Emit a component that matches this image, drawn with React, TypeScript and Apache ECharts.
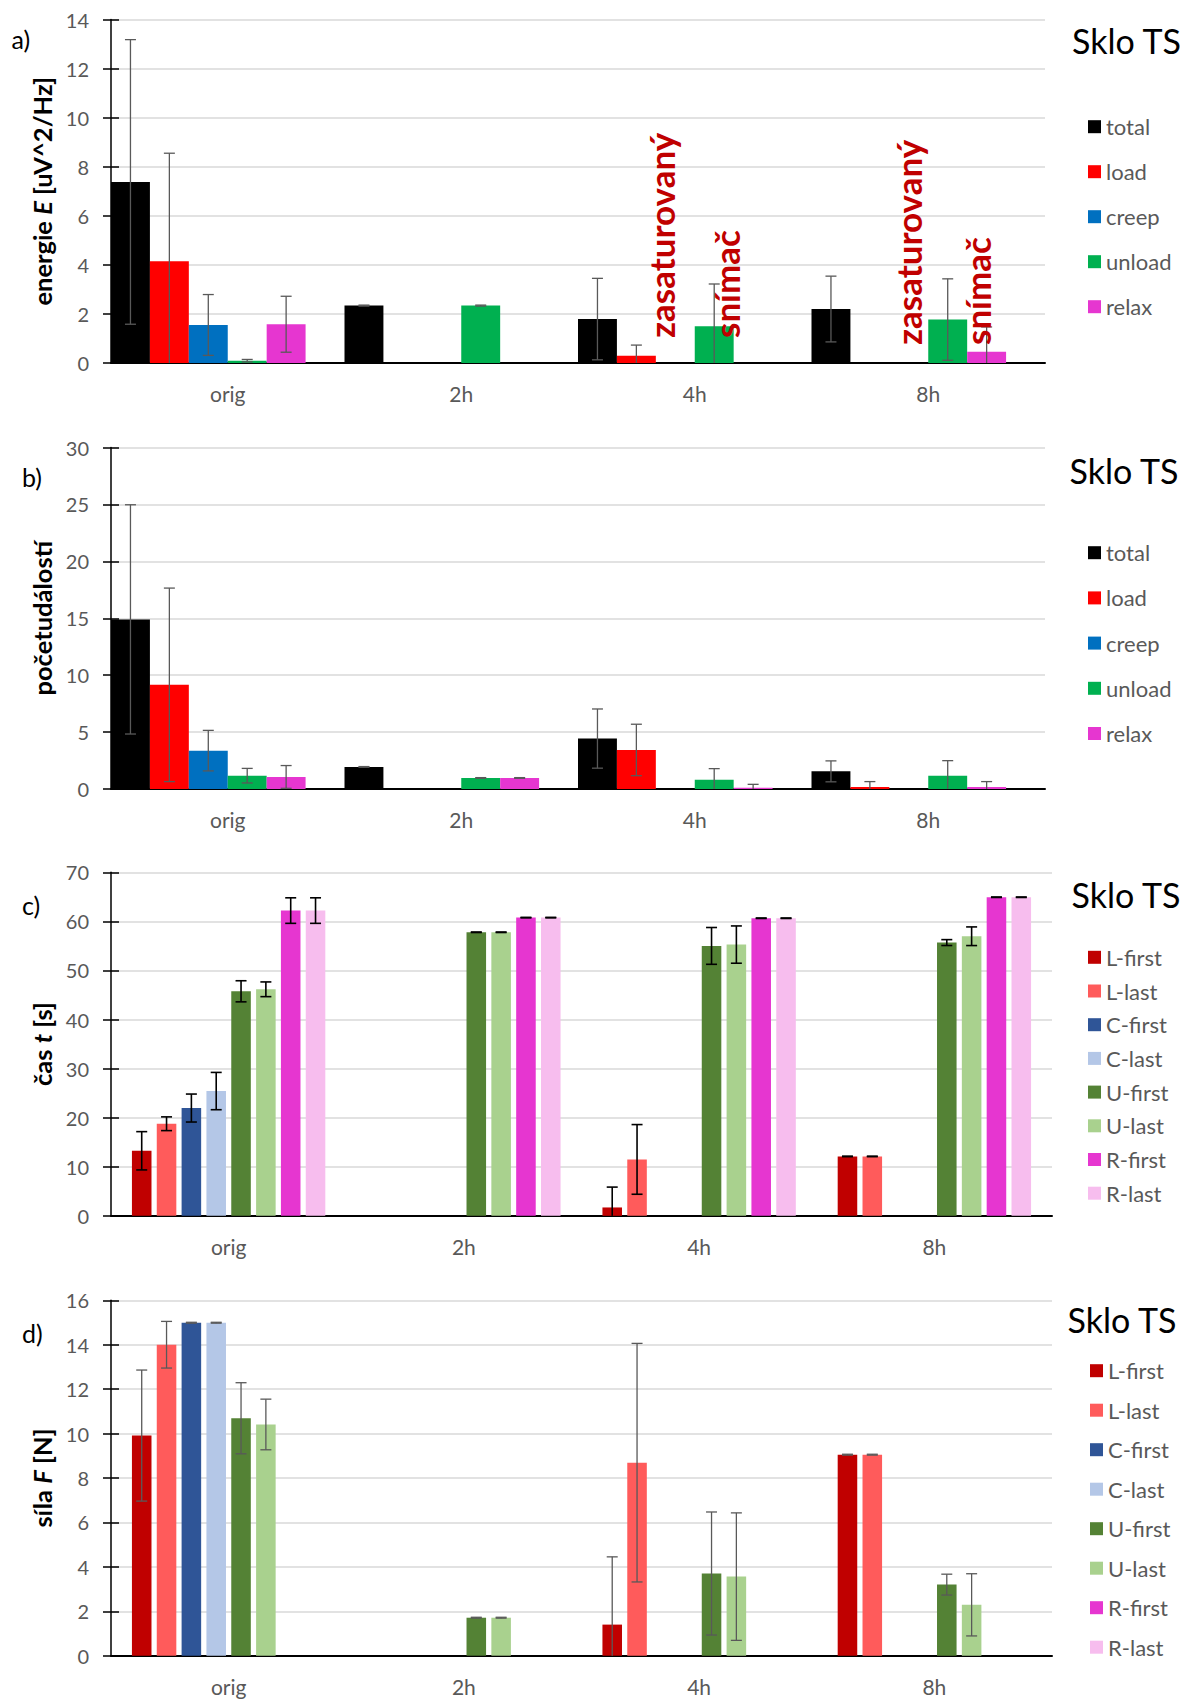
import React, { useEffect, useRef } from 'react';
import * as echarts from 'echarts';

// ---------- data ----------
const categories = ['orig', '2h', '4h', '8h'];

// panel a) energie E
const energyNames = ['total', 'load', 'creep', 'unload', 'relax'];
const energyTotal = [7.38, 2.34, 1.79, 2.2];
const energyTotalErr = [5.8, 0.02, 1.66, 1.34];
const energyLoad = [4.15, null, 0.3, null];
const energyLoadErr = [4.4, null, 0.43, null];
const energyCreep = [1.55, null, null, null];
const energyCreepErr = [1.24, null, null, null];
const energyUnload = [0.095, 2.34, 1.5, 1.77];
const energyUnloadErr = [0.05, 0.02, 1.72, 1.66];
const energyRelax = [1.58, null, null, 0.46];
const energyRelaxErr = [1.14, null, null, 1.01];

// panel b) počet událostí
const countTotal = [14.9, 1.94, 4.43, 1.55];
const countTotalErr = [10.07, 0.03, 2.6, 0.92];
const countLoad = [9.15, null, 3.43, 0.18];
const countLoadErr = [8.5, null, 2.26, 0.47];
const countCreep = [3.37, null, null, null];
const countCreepErr = [1.78, null, null, null];
const countUnload = [1.17, 0.97, 0.82, 1.17];
const countUnloadErr = [0.64, 0.03, 0.97, 1.32];
const countRelax = [1.06, 0.97, 0.12, 0.18];
const countRelaxErr = [1.0, 0.03, 0.29, 0.47];

// panel c) čas t
const phaseNames = ['L-first', 'L-last', 'C-first', 'C-last', 'U-first', 'U-last', 'R-first', 'R-last'];
const timeLFirst = [13.25, null, 1.7, 12.1];
const timeLFirstErr = [3.9, null, 4.15, 0.05];
const timeLLast = [18.76, null, 11.49, 12.1];
const timeLLastErr = [1.4, null, 7.1, 0.05];
const timeCFirst = [21.96, null, null, null];
const timeCFirstErr = [2.85, null, null, null];
const timeCLast = [25.42, null, null, null];
const timeCLastErr = [3.8, null, null, null];
const timeUFirst = [45.75, 57.78, 55.0, 55.68];
const timeUFirstErr = [2.15, 0.05, 3.75, 0.6];
const timeULast = [46.16, 57.78, 55.27, 56.97];
const timeULastErr = [1.5, 0.05, 3.8, 1.9];
const timeRFirst = [62.2, 60.77, 60.64, 64.92];
const timeRFirstErr = [2.6, 0.05, 0.05, 0.05];
const timeRLast = [62.2, 60.77, 60.64, 64.92];
const timeRLastErr = [2.6, 0.05, 0.05, 0.05];

// panel d) síla F
const forceLFirst = [9.91, null, 1.4, 9.05];
const forceLFirstErr = [2.95, null, 3.05, 0.02];
const forceLLast = [14.0, null, 8.69, 9.05];
const forceLLastErr = [1.05, null, 5.37, 0.02];
const forceCFirst = [14.99, null, null, null];
const forceCFirstErr = [0.02, null, null, null];
const forceCLast = [14.99, null, null, null];
const forceCLastErr = [0.02, null, null, null];
const forceUFirst = [10.69, 1.71, 3.7, 3.2];
const forceUFirstErr = [1.6, 0.02, 2.77, 0.47];
const forceULast = [10.41, 1.71, 3.56, 2.29];
const forceULastErr = [1.14, 0.02, 2.87, 1.4];
const forceRFirst = [null, null, null, null];
const forceRFirstErr = [null, null, null, null];
const forceRLast = [null, null, null, null];
const forceRLastErr = [null, null, null, null];

// ---------- styles ----------
const FONT = 'Lato, "Open Sans", sans-serif';
const TXT = '#595959';
const energyColors = ['#000000', '#FF0000', '#0070C0', '#00B050', '#E636D0'];
const phaseColors = ['#C00000', '#FF5B5B', '#2F5597', '#B4C7E7', '#548235', '#A9D18E', '#E636D0', '#F7BDEE'];

type Panel = {
  grid: { left: number; top: number; width: number; height: number };
  max: number;
  interval: number;
  axisName: string;
  names: string[];
  colors: string[];
  values: (number | null)[][];
  errs: (number | null)[][];
  slots: number;
  catGap: number;
  barGap: number;
  errColor: string;
  errWidth: number;
  legend: { left: number; top: number; gap: number };
  sklo: { x: number; y: number };
  letter: { text: string; x: number; y: number };
};

const panels: Panel[] = [
  {
    grid: { left: 111, top: 19.5, width: 934, height: 343.5 },
    max: 14,
    interval: 2,
    axisName: '{b|energie }{bi|E}{b| [uV^2/Hz]}',
    names: energyNames,
    colors: energyColors,
    values: [energyTotal, energyLoad, energyCreep, energyUnload, energyRelax],
    errs: [energyTotalErr, energyLoadErr, energyCreepErr, energyUnloadErr, energyRelaxErr],
    slots: 6,
    catGap: 0,
    barGap: 0,
    errColor: '#595959',
    errWidth: 1.3,
    legend: { left: 1088, top: 115.7, gap: 23 },
    sklo: { x: 1072, y: 40.7 },
    letter: { text: 'a)', x: 11.5, y: 39 },
  },
  {
    grid: { left: 111, top: 447.5, width: 934, height: 341.5 },
    max: 30,
    interval: 5,
    axisName: '{b|početudálostí}',
    names: energyNames,
    colors: energyColors,
    values: [countTotal, countLoad, countCreep, countUnload, countRelax],
    errs: [countTotalErr, countLoadErr, countCreepErr, countUnloadErr, countRelaxErr],
    slots: 6,
    catGap: 0,
    barGap: 0,
    errColor: '#595959',
    errWidth: 1.3,
    legend: { left: 1088, top: 541.7, gap: 23.2 },
    sklo: { x: 1069.5, y: 470 },
    letter: { text: 'b)', x: 22, y: 476.7 },
  },
  {
    grid: { left: 111, top: 872.3, width: 941, height: 343.5 },
    max: 70,
    interval: 10,
    axisName: '{b|čas }{bi|t}{b| [s]}',
    names: phaseNames,
    colors: phaseColors,
    values: [timeLFirst, timeLLast, timeCFirst, timeCLast, timeUFirst, timeULast, timeRFirst, timeRLast],
    errs: [timeLFirstErr, timeLLastErr, timeCFirstErr, timeCLastErr, timeUFirstErr, timeULastErr, timeRFirstErr, timeRLastErr],
    slots: 8,
    catGap: 0.178,
    barGap: 0.27,
    errColor: '#000000',
    errWidth: 1.6,
    legend: { left: 1088, top: 946.3, gap: 11.7 },
    sklo: { x: 1071.5, y: 894 },
    letter: { text: 'c)', x: 22, y: 905 },
  },
  {
    grid: { left: 111, top: 1300.3, width: 941, height: 355.4 },
    max: 16,
    interval: 2,
    axisName: '{b|síla }{bi|F}{b| [N]}',
    names: phaseNames,
    colors: phaseColors,
    values: [forceLFirst, forceLLast, forceCFirst, forceCLast, forceUFirst, forceULast, forceRFirst, forceRLast],
    errs: [forceLFirstErr, forceLLastErr, forceCFirstErr, forceCLastErr, forceUFirstErr, forceULastErr, forceRFirstErr, forceRLastErr],
    slots: 8,
    catGap: 0.178,
    barGap: 0.27,
    errColor: '#595959',
    errWidth: 1.3,
    legend: { left: 1090, top: 1359.7, gap: 17.5 },
    sklo: { x: 1067.5, y: 1319.3 },
    letter: { text: 'd)', x: 22, y: 1332.7 },
  },
];

const annotations = [
  { text: 'zasaturovaný', x: 660.5, y: 338 },
  { text: 'snímač', x: 726, y: 338 },
  { text: 'zasaturovaný', x: 908, y: 345 },
  { text: 'snímač', x: 977, y: 345 },
];

function buildOption() {
  const grid: any[] = [];
  const xAxis: any[] = [];
  const yAxis: any[] = [];
  const series: any[] = [];
  const legend: any[] = [];
  const graphic: any[] = [];

  panels.forEach((p, g) => {
    grid.push({ ...p.grid, containLabel: false });
    xAxis.push({
      type: 'category',
      gridIndex: g,
      data: categories,
      axisLine: { lineStyle: { color: '#000', width: 2 } },
      axisTick: { show: false },
      axisLabel: { color: TXT, fontSize: 21, fontFamily: FONT, margin: 20 },
      splitLine: { show: false },
    });
    yAxis.push({
      type: 'value',
      gridIndex: g,
      min: 0,
      max: p.max,
      interval: p.interval,
      position: 'left',
      name: p.axisName,
      nameLocation: 'middle',
      nameGap: 55,
      nameTextStyle: {
        rich: {
          b: { fontSize: 25.5, fontWeight: 'bold', fontFamily: FONT, color: '#000' },
          bi: { fontSize: 25.5, fontWeight: 'bold', fontStyle: 'italic', fontFamily: FONT, color: '#000' },
        },
      },
      axisLine: { show: true, lineStyle: { color: '#000', width: 1.5 } },
      axisTick: { show: true, length: 8, lineStyle: { color: '#000', width: 1.5 } },
      axisLabel: { color: TXT, fontSize: 20, fontFamily: FONT, margin: 22 },
      splitLine: { show: true, lineStyle: { color: '#D9D9D9', width: 1.6 } },
    });
    yAxis.push({
      type: 'value',
      gridIndex: g,
      min: 0,
      max: p.max,
      interval: p.interval,
      position: 'left',
      axisLine: { show: false },
      axisTick: { show: true, inside: true, length: 8, lineStyle: { color: '#000', width: 1.5 } },
      axisLabel: { show: false },
      splitLine: { show: false },
    });

    p.names.forEach((name, k) => {
      series.push({
        type: 'bar',
        name,
        xAxisIndex: g,
        yAxisIndex: g * 2,
        data: p.values[k],
        itemStyle: { color: p.colors[k] },
        barGap: `${p.barGap * 100}%`,
        barCategoryGap: `${p.catGap * 100}%`,
        z: 2,
      });
    });
    if (p.slots > p.names.length) {
      for (let s = p.names.length; s < p.slots; s++) {
        series.push({
          type: 'bar',
          name: '_pad' + g + '_' + s,
          xAxisIndex: g,
          yAxisIndex: g * 2,
          data: categories.map(() => null),
          barGap: `${p.barGap * 100}%`,
          barCategoryGap: `${p.catGap * 100}%`,
        });
      }
    }

    const errData: number[][] = [];
    p.values.forEach((arr, k) =>
      arr.forEach((v, c) => {
        const e = p.errs[k][c];
        if (v == null || e == null) return;
        errData.push([c, k, Math.max(0, v - e), v + e, v - e >= 0 ? 1 : 0]);
      })
    );
    const { slots, catGap, barGap, errColor, errWidth } = p;
    series.push({
      type: 'custom',
      name: '_err' + g,
      xAxisIndex: g,
      yAxisIndex: g * 2,
      silent: true,
      z: 5,
      data: errData,
      encode: { x: 0, y: [2, 3] },
      renderItem: (params: any, api: any) => {
        const c = api.value(0);
        const k = api.value(1);
        const lo = api.value(2);
        const hi = api.value(3);
        const hasLo = api.value(4);
        const band = api.size([1, 0])[0];
        const usable = band * (1 - catGap);
        const w = usable / (slots + (slots - 1) * barGap);
        const x = api.coord([c, 0])[0] - usable / 2 + k * w * (1 + barGap) + w / 2;
        const y1 = api.coord([c, lo])[1];
        const y2 = api.coord([c, hi])[1];
        const cap = 5.5;
        const style = { stroke: errColor, lineWidth: errWidth };
        const children: any[] = [
          { type: 'line', shape: { x1: x, y1, x2: x, y2 }, style },
          { type: 'line', shape: { x1: x - cap, y1: y2, x2: x + cap, y2 }, style },
        ];
        if (hasLo) children.push({ type: 'line', shape: { x1: x - cap, y1, x2: x + cap, y2: y1 }, style });
        return { type: 'group', children };
      },
    });

    legend.push({
      orient: 'vertical',
      left: p.legend.left,
      top: p.legend.top,
      padding: 0,
      itemGap: p.legend.gap,
      itemWidth: 13,
      itemHeight: 13,
      icon: 'rect',
      selectedMode: false,
      data: p.names,
      textStyle: { color: TXT, fontSize: 22, lineHeight: 22, fontFamily: FONT },
    });

    graphic.push({
      type: 'text',
      x: p.sklo.x,
      y: p.sklo.y,
      style: { text: 'Sklo TS', fill: '#000', font: `34px ${FONT}`, align: 'left', verticalAlign: 'middle' },
    });
    graphic.push({
      type: 'text',
      x: p.letter.x,
      y: p.letter.y,
      style: { text: p.letter.text, fill: '#000', font: `25px ${FONT}`, align: 'left', verticalAlign: 'middle' },
    });
  });

  annotations.forEach((a) => {
    graphic.push({
      type: 'text',
      x: a.x,
      y: a.y,
      rotation: Math.PI / 2,
      style: { text: a.text, fill: '#C00000', font: `bold 35px ${FONT}`, align: 'left', verticalAlign: 'middle' },
      z: 10,
    });
  });

  return {
    animation: false,
    backgroundColor: '#ffffff',
    textStyle: { fontFamily: FONT },
    grid,
    xAxis,
    yAxis,
    series,
    legend,
    graphic,
  };
}

export default function App() {
  const ref = useRef<HTMLDivElement>(null);
  useEffect(() => {
    if (!ref.current) return;
    const chart = echarts.init(ref.current, undefined, { renderer: 'svg' });
    chart.setOption(buildOption() as any);
    return () => chart.dispose();
  }, []);
  return (
    <div
      ref={ref}
      style={{ position: 'absolute', left: 0, top: 0, width: 1180, height: 1699, background: '#fff' }}
    />
  );
}
